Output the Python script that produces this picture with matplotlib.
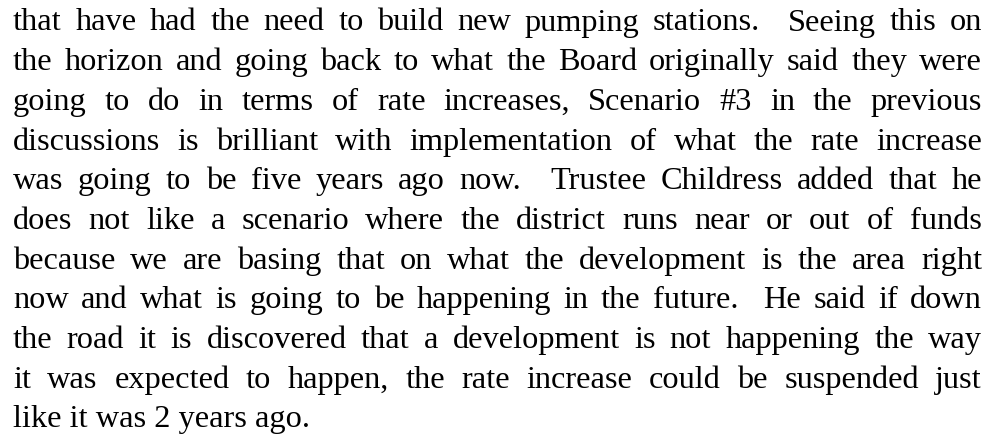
import matplotlib
matplotlib.use("Agg")
import matplotlib.pyplot as plt

# the paragraph, one entry per printed line (double spaces kept after periods)
lines = [
    "that have had the need to build new pumping stations.  Seeing this on",
    "the horizon and going back to what the Board originally said they were",
    "going to do in terms of rate increases, Scenario #3 in the previous",
    "discussions is brilliant with implementation of what the rate increase",
    "was going to be five years ago now.  Trustee Childress added that he",
    "does not like a scenario where the district runs near or out of funds",
    "because we are basing that on what the development is the area right",
    "now and what is going to be happening in the future.  He said if down",
    "the road it is discovered that a development is not happening the way",
    "it was expected to happen, the rate increase could be suspended just",
    "like it was 2 years ago.",
]

W, H = 988, 435
left, right = 13, 982
first_baseline = 30.5
line_step = 39.7
font = dict(family="Liberation Serif", size=23.3, color="black")

fig = plt.figure(figsize=(W / 100, H / 100), dpi=100)
ax = fig.add_axes([0, 0, 1, 1])
ax.set_xlim(0, W)
ax.set_ylim(H, 0)
ax.axis("off")
renderer = fig.canvas.get_renderer()


def word_width(word):
    if not word:
        return 0.0
    t = ax.text(0, 0, word, **font)
    w = t.get_window_extent(renderer).width
    t.remove()
    return w


for i, line in enumerate(lines):
    y = first_baseline + i * line_step
    tokens = line.split(" ")
    if i == len(lines) - 1:
        # last line is not justified
        ax.text(left, y, line, va="baseline", ha="left", **font)
        continue
    widths = [word_width(tok) for tok in tokens]
    gap = (right - left - sum(widths)) / (len(tokens) - 1)
    x = left
    for tok, w in zip(tokens, widths):
        if tok:
            ax.text(x, y, tok, va="baseline", ha="left", **font)
        x += w + gap

fig.savefig("out.png", dpi=100)
